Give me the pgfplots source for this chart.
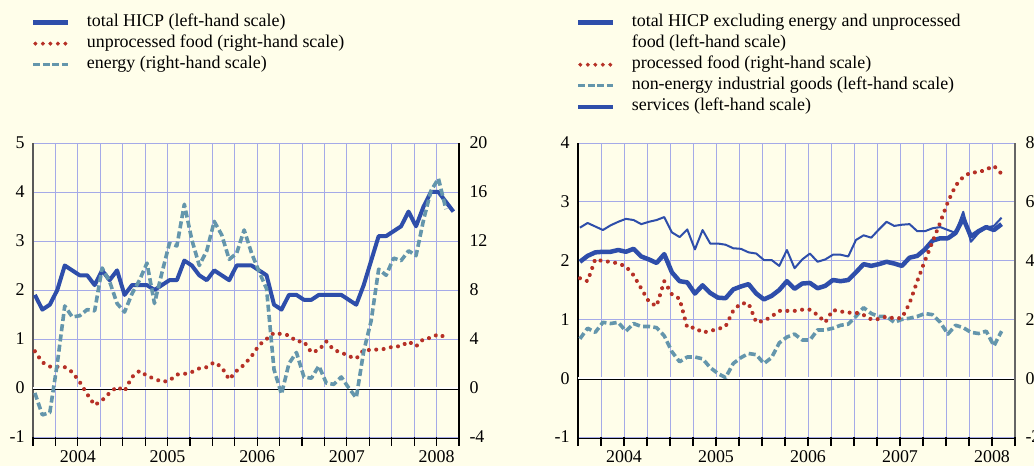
\documentclass[border=0pt]{standalone}
\usepackage{pgfplots}
\pgfplotsset{compat=1.18}
\usepackage{pgfplotstable}
\usetikzlibrary{decorations.markings}
\usepackage{fontspec}
\setmainfont{Liberation Serif}
\definecolor{bgc}{RGB}{255,254,234}
\definecolor{gridc}{RGB}{165,170,232}
\definecolor{hblue}{RGB}{46,78,170}
\definecolor{fred}{RGB}{182,48,38}
\definecolor{eteal}{RGB}{100,150,172}

\pgfplotstableread{
i hicp unf en
0 1.9 3.0 -0.4
1 1.6 2.1 -2.2
2 1.7 1.75 -2.0
3 2.0 1.74 2.0
4 2.5 1.7 6.7
5 2.4 1.3 5.8
6 2.3 0.5 5.9
7 2.3 -0.5 6.4
8 2.1 -1.4 6.3
9 2.4 -1.0 9.8
10 2.2 -0.4 8.7
11 2.4 0.1 6.9
12 1.9 -0.25 6.2
13 2.1 0.9 7.7
14 2.1 1.4 8.8
15 2.1 1.0 10.2
16 2.0 0.75 6.9
17 2.1 0.5 9.4
18 2.2 0.6 11.8
19 2.2 1.1 11.6
20 2.6 1.15 15.0
21 2.5 1.3 12.1
22 2.3 1.6 10.0
23 2.2 1.7 11.2
24 2.4 2.1 13.6
25 2.3 1.7 12.5
26 2.2 0.7 10.5
27 2.5 1.4 11.0
28 2.5 1.9 12.9
29 2.5 2.6 11.0
30 2.4 3.5 9.5
31 2.3 4.0 8.1
32 1.7 4.5 1.5
33 1.6 4.4 -0.5
34 1.9 4.3 2.0
35 1.9 3.8 2.9
36 1.8 3.8 0.9
37 1.8 2.9 0.8
38 1.9 3.1 1.8
39 1.9 3.8 0.4
40 1.9 3.1 0.3
41 1.9 2.9 0.9
42 1.8 2.6 0.0
43 1.7 2.4 -0.8
44 2.1 3.1 3.0
45 2.6 3.1 5.5
46 3.1 3.15 9.7
47 3.1 3.2 9.2
48 3.2 3.4 10.6
49 3.3 3.4 10.4
50 3.6 3.8 11.2
51 3.3 3.4 10.8
52 3.7 4.0 13.7
53 4.0 4.1 16.1
54 4.0 4.4 17.1
55 3.8 4.1 14.6
56 3.6 nan nan
}\lefttab

\pgfplotstableread{
i core pf neig serv
0 1.98 3.4 0.67 2.56
1 2.08 3.3 0.85 2.64
2 2.14 4.05 0.78 2.58
3 2.15 3.98 0.95 2.52
4 2.15 3.96 0.93 2.60
5 2.18 3.9 0.95 2.66
6 2.15 3.8 0.8 2.71
7 2.2 3.5 0.93 2.69
8 2.07 3.05 0.88 2.62
9 2.02 2.6 0.88 2.66
10 1.96 2.45 0.86 2.69
11 2.11 3.3 0.72 2.74
12 1.8 2.85 0.45 2.48
13 1.65 2.7 0.28 2.40
14 1.63 1.72 0.36 2.53
15 1.44 1.72 0.36 2.19
16 1.58 1.55 0.33 2.52
17 1.45 1.61 0.18 2.29
18 1.37 1.67 0.08 2.29
19 1.36 1.76 0.01 2.27
20 1.51 2.3 0.25 2.21
21 1.56 2.55 0.35 2.20
22 1.6 2.54 0.42 2.14
23 1.44 1.9 0.4 2.12
24 1.34 1.95 0.25 2.01
25 1.4 2.1 0.35 2.01
26 1.5 2.29 0.6 1.91
27 1.65 2.29 0.7 2.18
28 1.52 2.29 0.75 1.87
29 1.61 2.33 0.65 2.02
30 1.62 2.33 0.65 2.12
31 1.53 2.15 0.82 1.98
32 1.57 1.9 0.82 2.02
33 1.67 2.32 0.85 2.10
34 1.65 2.27 0.9 2.10
35 1.67 2.23 0.92 2.07
36 1.8 2.23 1.05 2.35
37 1.94 2.15 1.2 2.43
38 1.91 2.0 1.1 2.39
39 1.94 2.01 1.05 2.53
40 1.98 2.1 1.05 2.66
41 1.95 2.03 0.95 2.59
42 1.91 2.05 1.0 2.61
43 2.05 2.55 1.02 2.62
44 2.08 3.3 1.05 2.50
45 2.19 4.0 1.1 2.50
46 2.34 4.65 1.08 2.55
47 2.38 5.3 0.95 2.57
48 2.38 6.0 0.75 2.52
49 2.47 6.55 0.9 2.47
50 2.72 6.85 0.86 2.83
51 2.41 7.0 0.78 2.32
52 2.5 7.0 0.76 2.47
53 2.57 7.1 0.8 2.56
54 2.52 7.22 0.55 2.59
55 2.62 6.95 0.8 2.73
}\righttab

\pgfplotsset{
  common/.style={
    scale only axis, height=294bp, xmin=0, xmax=57, anchor=south west,
    font=\fontsize{18}{21}\selectfont,
    /pgf/number format/assume math mode=true,
    tick align=outside, major tick length=0bp, minor tick length=9bp,
    clip=false,
  },
  leftax/.style={
    common,
    xtick={6,18,30,42,54}, xticklabels={2004,2005,2006,2007,2008},
    minor xtick={0,3,...,57},
    ymajorgrids, xminorgrids,
    grid style={gridc, line width=0.9bp},
    minor grid style={gridc, line width=0.9bp},
    axis x line*=bottom, axis y line*=left,
    x axis line style={-, black, line width=1.2bp, yshift=-1.5bp},
    minor tick style={black, line width=1.2bp},
    yticklabel style={xshift=-5bp},
    xticklabel style={yshift=-10bp},
    legend style={at={(-0.005,1.445)}, anchor=north west, draw=none, fill=none,
      inner sep=0pt, outer sep=0pt, column sep=16bp, row sep=0pt,
      nodes={inner sep=0pt, text height=14bp, text depth=7bp},
      font=\fontsize{18}{21}\selectfont},
    legend cell align=left,
    legend image code/.code={\draw (0bp,0bp) -- (35bp,0bp);},
  },
  rightax/.style={
    common, axis y line*=right, axis x line=none, xtick=\empty,
    yticklabel style={xshift=7bp},
  },
  reddots/.style={draw=none, postaction={decorate},
    decoration={markings, mark=between positions 0 and 1 step 7.4bp with
      {\fill[fred] (0bp,0bp) circle (2.05bp);}}},
  dashes/.style={eteal, line width=3.6bp, dash pattern=on 7bp off 3.3bp},
  dotleg/.style={legend image code/.code={%
    \foreach \xx in {2,9.5,17,24.5,32} {\fill[fred] (\xx bp,0bp) circle (1.8bp);}}},
}

\begin{document}
\begin{tikzpicture}
\useasboundingbox (0,0) rectangle (1034bp,466bp);
\fill[bgc] (0,0) rectangle (1034bp,466bp);

% ---------- left panel ----------
\begin{axis}[leftax, at={(33bp,29bp)}, width=426bp,
  ymin=-1, ymax=5, ytick={-1,0,...,5},
  y axis line style={-, black!65, line width=1.8bp}]
\addlegendimage{hblue, line width=5bp}
\addlegendentry{total HICP (left-hand scale)}
\addlegendimage{dotleg}
\addlegendentry{unprocessed food (right-hand scale)}
\addlegendimage{eteal, line width=3.6bp, dash pattern=on 7bp off 2.5bp}
\addlegendentry{energy (right-hand scale)}
\addplot[white, line width=2.6bp, forget plot] coordinates {(0,0) (57,0)};
\addplot[black, line width=0.9bp, yshift=-1.3bp, forget plot] coordinates {(0,0) (57,0)};
\addplot[hblue, line width=4bp, line join=round, forget plot]
  table[x expr=\thisrow{i}+0.25, y=hicp] {\lefttab};
\end{axis}
\begin{axis}[rightax, at={(33bp,29bp)}, width=426bp,
  ymin=-4, ymax=20, ytick={-4,0,...,20},
  y axis line style={-, black, line width=1.1bp}]
\addplot[reddots] table[x expr=\thisrow{i}+0.25, y=unf] {\lefttab};
\addplot[dashes, line join=round] table[x expr=\thisrow{i}+0.25, y=en] {\lefttab};
\end{axis}

% ---------- right panel ----------
\begin{axis}[leftax, at={(578bp,29bp)}, width=437bp,
  ymin=-1, ymax=4, ytick={-1,0,...,4},
  y axis line style={-, black, line width=1.8bp}]
\addlegendimage{hblue, line width=5bp}
\addlegendentry{total HICP excluding energy and unprocessed}
\addlegendimage{empty legend}
\addlegendentry{food (left-hand scale)}
\addlegendimage{dotleg}
\addlegendentry{processed food (right-hand scale)}
\addlegendimage{eteal, line width=3.6bp, dash pattern=on 7bp off 2.5bp}
\addlegendentry{non-energy industrial goods (left-hand scale)}
\addlegendimage{hblue, line width=4bp}
\addlegendentry{services (left-hand scale)}
\addplot[white, line width=2.6bp, forget plot] coordinates {(0,0) (57,0)};
\addplot[black, line width=0.9bp, yshift=-1.3bp, forget plot] coordinates {(0,0) (57,0)};
\addplot[dashes, line join=round, forget plot]
  table[x expr=\thisrow{i}+0.25, y=neig] {\righttab};
\addplot[hblue, line width=2bp, line join=round, forget plot]
  table[x expr=\thisrow{i}+0.25, y=serv] {\righttab};
\addplot[hblue, line width=4.5bp, line join=round, forget plot]
  table[x expr=\thisrow{i}+0.25, y=core] {\righttab};
\end{axis}
\begin{axis}[rightax, at={(578bp,29bp)}, width=437bp,
  ymin=-2, ymax=8, ytick={-2,0,...,8},
  y axis line style={-, black!60, line width=1.8bp}]
\addplot[reddots] table[x expr=\thisrow{i}+0.25, y=pf] {\righttab};
\end{axis}
\end{tikzpicture}
\end{document}
